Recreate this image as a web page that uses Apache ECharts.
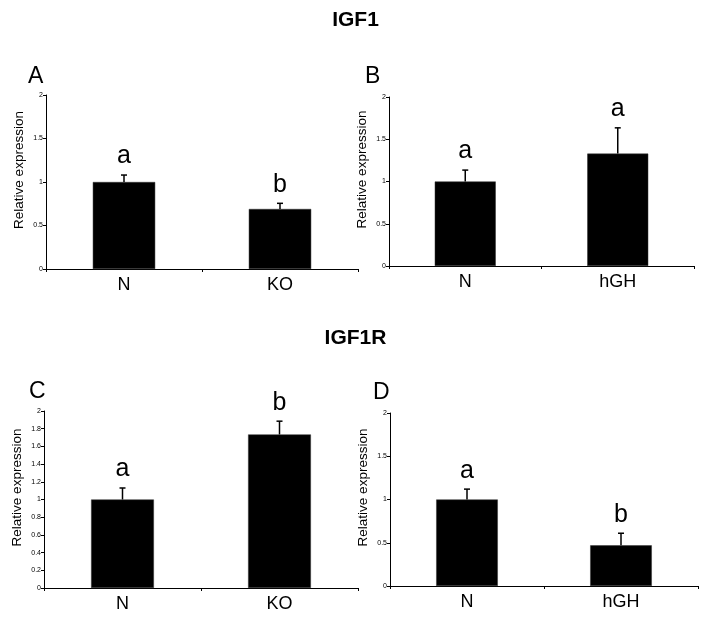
<!DOCTYPE html>
<html>
<head>
<meta charset="utf-8">
<script src="https://cdn.jsdelivr.net/npm/echarts@6/dist/echarts.min.js"></script>
<style>
html,body{margin:0;padding:0;background:#fff;}
#chart{width:711px;height:624px;}
</style>
</head>
<body>
<div id="chart"></div>
<script>
// ---- data ----
const titleTop = 'IGF1';
const titleBottom = 'IGF1R';
const panelLetters = ['A', 'B', 'C', 'D'];
const yAxisName = 'Relative expression';

const catsA = ['N', 'KO'];
const valuesA = [1.0, 0.69];
const errorsA = [0.08, 0.065];
const lettersA = ['a', 'b'];

const catsB = ['N', 'hGH'];
const valuesB = [1.0, 1.33];
const errorsB = [0.135, 0.305];
const lettersB = ['a', 'a'];

const catsC = ['N', 'KO'];
const valuesC = [1.0, 1.735];
const errorsC = [0.13, 0.15];
const lettersC = ['a', 'b'];

const catsD = ['N', 'hGH'];
const valuesD = [1.0, 0.47];
const errorsD = [0.12, 0.14];
const lettersD = ['a', 'b'];

const yMax = 2;
const yIntervals = [0.5, 0.5, 0.2, 0.5];

// ---- layout ----
const FONT = 'Liberation Sans, Arial, Helvetica, sans-serif';
const grids = [
  {left: 46, top: 95, width: 312, height: 174},
  {left: 389, top: 97, width: 305, height: 169},
  {left: 44, top: 411, width: 314, height: 177},
  {left: 390, top: 413, width: 308, height: 173}
];
const panels = [
  {cats: catsA, vals: valuesA, errs: errorsA, lets: lettersA},
  {cats: catsB, vals: valuesB, errs: errorsB, lets: lettersB},
  {cats: catsC, vals: valuesC, errs: errorsC, lets: lettersC},
  {cats: catsD, vals: valuesD, errs: errorsD, lets: lettersD}
];

const xAxes = [], yAxes = [], series = [];
panels.forEach((p, i) => {
  xAxes.push({
    type: 'category', gridIndex: i, data: p.cats,
    axisLine: {lineStyle: {color: '#000', width: 1}},
    axisTick: {show: true, length: 3, lineStyle: {color: '#000'}},
    axisLabel: {fontSize: 18, color: '#000', fontFamily: FONT, margin: 7},
    splitLine: {show: false}
  });
  yAxes.push({
    type: 'value', gridIndex: i, min: 0, max: yMax, interval: yIntervals[i],
    name: yAxisName, nameLocation: 'middle', nameGap: 20,
    nameTextStyle: {fontSize: 13.5, color: '#000', fontFamily: FONT, padding: [0, 0, 0, 24]},
    axisLine: {show: true, lineStyle: {color: '#000', width: 1}},
    axisTick: {show: true, length: 3, lineStyle: {color: '#000'}},
    axisLabel: {fontSize: 7, color: '#000', fontFamily: FONT, margin: 3},
    splitLine: {show: false}
  });
  series.push({
    type: 'bar', xAxisIndex: i, yAxisIndex: i,
    data: p.vals, barWidth: '40%',
    itemStyle: {color: '#000', borderColor: '#333', borderWidth: 0.5},
    silent: true
  });
  series.push({
    type: 'custom', xAxisIndex: i, yAxisIndex: i,
    data: p.vals.map((v, k) => [k, v, p.errs[k]]),
    renderItem: function (params, api) {
      const idx = api.value(0), v = api.value(1), e = api.value(2);
      const letter = p.lets[idx];
      const base = api.coord([idx, v]);
      const top = api.coord([idx, v + e]);
      return {
        type: 'group',
        children: [
          {type: 'line', shape: {x1: base[0], y1: base[1], x2: top[0], y2: top[1]},
           style: {stroke: '#000', lineWidth: 1.5}},
          {type: 'line', shape: {x1: top[0] - 3, y1: top[1], x2: top[0] + 3, y2: top[1]},
           style: {stroke: '#000', lineWidth: 1.5}},
          {type: 'text', x: top[0], y: top[1] - 6,
           style: {text: letter, fontSize: 25, fontFamily: FONT, fill: '#000',
                   textAlign: 'center', textVerticalAlign: 'bottom'}}
        ]
      };
    },
    silent: true, z: 5
  });
});

const letterPos = [[28, 65], [365, 65], [29, 380], [373, 381]];
const graphics = [
  {type: 'text', left: 'center', top: 10,
   style: {text: titleTop, fontSize: 21, fontWeight: 'bold', fontFamily: 'Liberation Sans Narrow, ' + FONT, fill: '#000'}},
  {type: 'text', left: 'center', top: 328,
   style: {text: titleBottom, fontSize: 21, fontWeight: 'bold', fontFamily: 'Liberation Sans Narrow, ' + FONT, fill: '#000'}}
];
panelLetters.forEach((L, i) => {
  graphics.push({type: 'text', left: letterPos[i][0], top: letterPos[i][1],
    style: {text: L, fontSize: 23, fontFamily: FONT, fill: '#000'}});
});

const chart = echarts.init(document.getElementById('chart'), null, {renderer: 'canvas'});
chart.setOption({
  backgroundColor: '#fff',
  animation: false,
  grid: grids,
  xAxis: xAxes,
  yAxis: yAxes,
  series: series,
  graphic: graphics
});
</script>
</body>
</html>
